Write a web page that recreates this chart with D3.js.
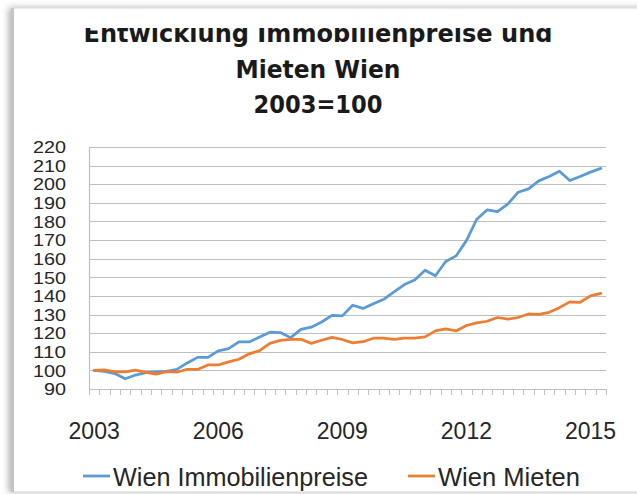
<!DOCTYPE html>
<html>
<head>
<meta charset="utf-8">
<script src="https://cdn.jsdelivr.net/npm/d3@7"></script>
<style>
  body { margin: 0; background: #fff; }
  svg { display: block; }
</style>
</head>
<body>
<div id="chart"></div>
<script>
// quarters 2003 Q1 .. 2015 Q2
let quarters = [
  "2003Q1","2003Q2","2003Q3","2003Q4","2004Q1","2004Q2","2004Q3","2004Q4",
  "2005Q1","2005Q2","2005Q3","2005Q4","2006Q1","2006Q2","2006Q3","2006Q4",
  "2007Q1","2007Q2","2007Q3","2007Q4","2008Q1","2008Q2","2008Q3","2008Q4",
  "2009Q1","2009Q2","2009Q3","2009Q4","2010Q1","2010Q2","2010Q3","2010Q4",
  "2011Q1","2011Q2","2011Q3","2011Q4","2012Q1","2012Q2","2012Q3","2012Q4",
  "2013Q1","2013Q2","2013Q3","2013Q4","2014Q1","2014Q2","2014Q3","2014Q4",
  "2015Q1","2015Q2"
]

let immobilienpreise = [
  100, 99.5, 98.3, 95.5, 97.5, 98.8, 99.2, 99.5,
  100.5, 104, 107, 107, 110.5, 111.7, 115.3, 115.3,
  117.9, 120.5, 120.3, 117.6, 122, 123.2, 126, 129.6,
  129.3, 135, 133.3, 135.8, 138.2, 142.2, 146.1, 148.6,
  153.8, 150.8, 158.5, 161.5, 169.7, 181.2, 186.2, 185.3,
  189.3, 195.7, 197.5, 201.8, 204.2, 207, 202, 204.2,
  206.5, 208.5
]

let mieten = [
  100, 100.3, 99.2, 99.2, 100.1, 98.9, 98, 99.3,
  99, 100.6, 100.5, 102.9, 102.9, 104.6, 106, 108.9,
  110.6, 114.5, 116.1, 116.6, 116.7, 114.5, 116.2, 117.7,
  116.6, 114.8, 115.4, 117.3, 117.3, 116.6, 117.3, 117.3,
  118, 121.2, 122.3, 121.2, 124.1, 125.5, 126.4, 128.4,
  127.5, 128.4, 130.3, 130.1, 131.2, 133.7, 136.8, 136.6,
  140, 141.4
]

let yTicks = [90, 100, 110, 120, 130, 140, 150, 160, 170, 180, 190, 200, 210, 220]
let xLabels = [
  { q: "2003Q1", label: "2003" },
  { q: "2006Q1", label: "2006" },
  { q: "2009Q1", label: "2009" },
  { q: "2012Q1", label: "2012" },
  { q: "2015Q1", label: "2015" }
]

let seriesNames = ["Wien Immobilienpreise", "Wien Mieten"]
let seriesColors = ["#5b9bd5", "#ed7d31"]
let titleLines = ["Entwicklung Immobilienpreise und", "Mieten Wien", "2003=100"]

let width = 637
let height = 494
let margin = { top: 147, right: 31, bottom: 105, left: 89 }

let svg = d3.select('#chart')
    .append('svg')
    .attr('width', width)
    .attr('height', height)

// frame with soft shadow on the left
let defs = svg.append('defs')
let shadow = defs.append('filter').attr('id', 'shadow')
    .attr('x', '-10%').attr('y', '-10%').attr('width', '120%').attr('height', '120%')
shadow.append('feDropShadow')
    .attr('dx', -3).attr('dy', 0)
    .attr('stdDeviation', 3)
    .attr('flood-color', '#000')
    .attr('flood-opacity', 0.3)

defs.append('clipPath').attr('id', 'titleclip')
    .append('rect').attr('x', 0).attr('y', 28).attr('width', width).attr('height', 100)

svg.append('rect')
    .attr('x', 12).attr('y', 8)
    .attr('width', 640).attr('height', 484)
    .attr('fill', '#fff')
    .attr('stroke', '#d4d4d4')
    .attr('filter', 'url(#shadow)')

svg.append('line')
    .attr('x1', 12.5).attr('x2', 12.5)
    .attr('y1', 8).attr('y2', 492)
    .attr('stroke', '#c4c4c4')
    .attr('stroke-width', 3)

let x = d3.scaleBand()
    .domain(quarters)
    .range([margin.left, width - margin.right])
    .padding(0)

let y = d3.scaleLinear()
    .domain([90, 220])
    .range([height - margin.bottom, margin.top])

// title (first line is cut at the top, like in the original)
let title = svg.append('g').attr('clip-path', 'url(#titleclip)')
title.selectAll('text')
    .data(titleLines)
    .join('text')
    .attr('x', 318)
    .attr('y', (d, i) => 42 + i * 35.5)
    .attr('text-anchor', 'middle')
    .attr('font-family', 'DejaVu Sans')
    .attr('font-weight', 700)
    .attr('font-size', '25px')
    .attr('fill', '#1a1a1a')
    .attr('textLength', (d, i) => [469, 165, 129][i])
    .attr('lengthAdjust', 'spacingAndGlyphs')
    .text(d => d)

// grid lines
svg.append('g')
    .selectAll('line')
    .data(yTicks.slice(1))
    .join('line')
    .attr('x1', margin.left)
    .attr('x2', width - margin.right)
    .attr('y1', d => Math.round(y(d)) + 0.5)
    .attr('y2', d => Math.round(y(d)) + 0.5)
    .attr('stroke', '#bfbfbf')
    .attr('stroke-width', 1.2)

// y axis
let yAxis = d3.axisLeft(y).tickValues(yTicks).tickSize(0).tickPadding(23)
let gy = svg.append('g')
    .attr('transform', `translate(${margin.left},0)`)
    .call(yAxis)
gy.select('.domain')
    .attr('stroke', '#bfbfbf')
    .attr('stroke-width', 1.2)
gy.selectAll('text')
    .attr('font-family', 'Liberation Sans')
    .attr('font-size', '16px')
    .attr('fill', '#262626')
    .attr('dy', '0.36em')
    .attr('textLength', d => d >= 100 ? 33 : 22)
    .attr('lengthAdjust', 'spacingAndGlyphs')

// x axis
let axisY = height - margin.bottom
let gx = svg.append('g')
svg.append('line')
    .attr('x1', margin.left).attr('x2', width - margin.right)
    .attr('y1', axisY + 0.5).attr('y2', axisY + 0.5)
    .attr('stroke', '#bfbfbf')
    .attr('stroke-width', 1.2)

let tickPos = quarters.map(q => x(q)).concat([x.range()[1]])
gx.selectAll('line')
    .data(tickPos)
    .join('line')
    .attr('x1', d => Math.round(d) + 0.5)
    .attr('x2', d => Math.round(d) + 0.5)
    .attr('y1', axisY)
    .attr('y2', axisY + 6)
    .attr('stroke', '#bfbfbf')
    .attr('stroke-width', 1)

gx.selectAll('text')
    .data(xLabels)
    .join('text')
    .attr('x', d => x(d.q) + x.bandwidth() / 2)
    .attr('y', 439)
    .attr('text-anchor', 'middle')
    .attr('font-family', 'Liberation Sans')
    .attr('font-size', '23px')
    .attr('fill', '#262626')
    .text(d => d.label)

// lines
let line = d3.line()
    .x((d, i) => x(quarters[i]) + x.bandwidth() / 2)
    .y(d => y(d))

svg.selectAll('.series')
    .data([immobilienpreise, mieten])
    .join('path')
    .attr('class', 'series')
    .attr('d', d => line(d))
    .attr('fill', 'none')
    .attr('stroke', (d, i) => seriesColors[i])
    .attr('stroke-width', 2.75)
    .attr('stroke-linejoin', 'round')
    .attr('stroke-linecap', 'round')

// legend
let legendX = [83, 408]
let legendW = [255, 142]
let legend = svg.selectAll('.legend')
    .data(seriesNames)
    .join('g')
    .attr('class', 'legend')
    .attr('transform', (d, i) => `translate(${legendX[i]},476)`)

legend.append('line')
    .attr('x1', 0).attr('x2', 27)
    .attr('y1', 0).attr('y2', 0)
    .attr('stroke', (d, i) => seriesColors[i])
    .attr('stroke-width', 2.75)

legend.append('text')
    .attr('x', 30)
    .attr('y', 10)
    .attr('font-family', 'Liberation Sans')
    .attr('font-size', '25px')
    .attr('fill', '#262626')
    .attr('textLength', (d, i) => legendW[i])
    .attr('lengthAdjust', 'spacingAndGlyphs')
    .text(d => d)
</script>
</body>
</html>
